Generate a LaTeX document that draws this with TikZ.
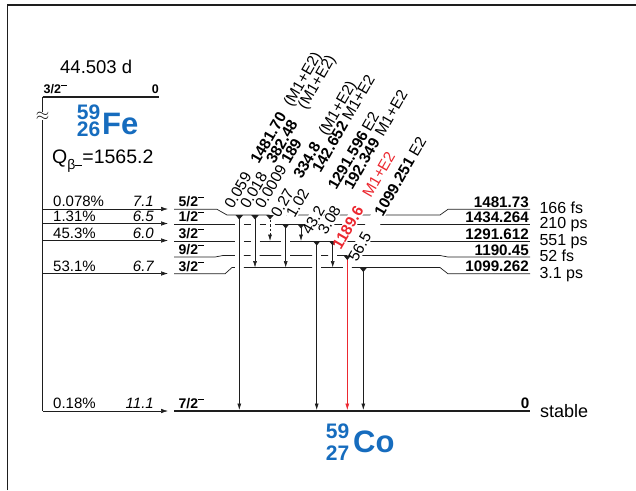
\documentclass[tikz,border=0pt]{standalone}
\usepackage{fontspec}
\setmainfont{Liberation Sans}
\usetikzlibrary{arrows.meta}
\definecolor{ink}{RGB}{30,30,30}
\definecolor{nucblue}{RGB}{22,108,190}
\definecolor{gred}{RGB}{236,40,48}
\newcommand{\fs}[1]{\fontsize{#1}{#1}\selectfont}
\newcommand{\mns}{\rule[0.62em]{0.45em}{0.075em}}
\newcommand{\tI}[2][52pt]{\makebox[#1][l]{#2}}
\newcommand{\tE}[2]{\makebox[#1][l]{\bfseries #2}}
\newcommand{\translabels}[1]{%
 \node[tlab,#1] (t1) at (232.3,211) {\tI{0.059}\tE{66pt}{1481.70}(M1+E2)};
 \node[tlab,#1] (t2) at (248,211) {\tI{0.018}\tE{63pt}{382.48}(M1+E2)};
 \node[tlab,#1] (t3) at (263,211) {\tI{0.0009}\textbf{189}};
 \node[tlab,#1] (t4) at (278.7,220) {\tI[45pt]{0.27}\tE{50pt}{334.8}(M1+E2)};
 \node[tlab,#1] (t5) at (294,220) {\tI{1.02}\tE{60pt}{142.652}M1+E2};
 \node[tlab,#1] (t6) at (309.7,237) {\tI{43.2}\tE{68pt}{1291.596}E2};
 \node[tlab,#1] (t7) at (325.7,237) {\tI{3.08}\tE{62pt}{192.349}M1+E2};
 \node[tlab,text=gred,#1] (t8) at (340.3,251.5) {\tE{60pt}{1189.6}M1+E2};
 \node[tlab,#1] (t9) at (356.3,263.5) {\tI{56.5}\tE{69pt}{1099.251}E2};
}
\begin{document}
\begin{tikzpicture}[x=1pt,y=-1pt,
  lvl/.style={draw=ink,line width=0.7pt},
  gnd/.style={draw=ink,line width=2.3pt},
  gam/.style={draw=ink,line width=0.6pt,-{Latex[length=6.5pt,width=4pt]}},
  feed/.style={draw=ink,line width=0.6pt,-{Latex[length=7pt,width=4.5pt]}},
  tlab/.style={rotate=60,anchor=base west,inner sep=1pt,font=\fs{15.5}},
  bgpass/.style={fill=white,text=white},
  spin/.style={anchor=base west,inner sep=0pt,font=\fs{14}\bfseries},
  pct/.style={anchor=base west,inner sep=0pt,font=\fs{15}},
  lft/.style={anchor=base east,inner sep=0pt,font=\fs{15}\itshape},
  elab/.style={anchor=base east,inner sep=0pt,font=\fs{15.2}\bfseries},
  hl/.style={anchor=base west,inner sep=0pt,font=\fs{16}},
  nuc/.style={inner sep=0pt,text=nucblue,font=\bfseries}]
\useasboundingbox (0,0) rectangle (636,490);
% frame
\draw[ink,line width=1.6pt] (7.3,490) -- (7.3,5) -- (636,5);
% parent level
\draw[gnd] (42.7,96.7) -- (159.3,96.7);
\node[anchor=base west,inner sep=0pt,font=\fs{12.5}\bfseries] (pspin) at (43.5,93.3) {3/2\mns};
\node[anchor=base east,inner sep=0pt,font=\fs{12.5}\bfseries] (pzero) at (159,93.3) {0};
\node[anchor=base west,inner sep=0pt,font=\fs{18.5}] (thalf) at (60,73.3) {44.503 d};
\node[nuc,anchor=base west,font=\fs{31}\bfseries] (fe) at (102,134.3) {Fe};
\node[nuc,anchor=base east,font=\fs{21}\bfseries] (fea) at (100.5,119.3) {59};
\node[nuc,anchor=base east,font=\fs{21}\bfseries] (fez) at (100.5,136.7) {26};
\node[anchor=base west,inner sep=0pt,font=\fs{19.5}] (qb) at (52,163.5) {Q\raisebox{-0.33em}{\fs{14}β\rule[0.25em]{0.5em}{0.07em}}=1565.2};
% feeding line
\draw[ink,line width=0.7pt] (42.7,96.7) -- (42.7,411);
\node[inner sep=0pt,fill=white,text=ink,font=\fs{19}] (brk) at (42.5,116) {$\approx$};
\foreach \yy in {209,223.5,240.5,273.5,411} \draw[feed] (42.7,\yy) -- (168,\yy);
% levels
\draw[lvl] (174,209.3) -- (217,209.3) -- (227,215) -- (440,215) -- (448,209.3) -- (530,209.3);
\draw[lvl] (174,224) -- (234.8,224) (243.8,224) -- (250.5,224) (259.5,224) -- (265.5,224) (274.5,224) -- (530,224);
\draw[lvl] (174,241) -- (234.8,241) (243.8,241) -- (250.5,241) (259.5,241) -- (281.2,241) (290.2,241) -- (530,241);
\draw[lvl] (174,257) -- (215,257) -- (223,255.5) -- (234.8,255.5) (243.8,255.5) -- (250.5,255.5) (259.5,255.5) -- (281.2,255.5) (290.2,255.5) -- (312.2,255.5) (321.2,255.5) -- (328.2,255.5) (337.2,255.5) -- (440,255.5) -- (448,257) -- (530,257);
\draw[lvl] (174,273.8) -- (225,273.8) -- (232,267.5) -- (234.8,267.5) (243.8,267.5) -- (312.2,267.5) (321.2,267.5) -- (342.8,267.5) (351.8,267.5) -- (440,267.5) -- (448,273.8) -- (530,273.8);
\draw[gnd] (174,411) -- (530,411);
% label backgrounds
\translabels{bgpass}
% gamma transitions
\foreach \xx/\ya/\yb in {239.3/215/410, 255/215/267.5, 285.7/224/267.5, 301/224/241, 316.7/241/410, 332.7/241/267.5, 363.3/267.5/410}
  \draw[gam] (\xx,\ya) -- (\xx,\yb);
\draw[gam,dash pattern=on 2.5pt off 2pt] (270,215) -- (270,241);
\draw[gam,draw=gred,fill=gred,line width=0.5pt] (347.3,255.5) -- (347.3,410);
\foreach \xx/\ya in {239.3/215, 255/215, 270/215, 285.7/224, 301/224, 316.7/241, 332.7/241, 347.3/255.5, 363.3/267.5}
  \fill[ink] (\xx-3.8,\ya) -- (\xx+3.8,\ya) -- (\xx,\ya+4.5) -- cycle;
% transition labels
\translabels{}
% left labels
\node[pct] (p1) at (53,206) {0.078\%};
\node[pct] (p2) at (53,221) {1.31\%};
\node[pct] (p3) at (53,238) {45.3\%};
\node[pct] (p4) at (53,271) {53.1\%};
\node[pct] (p5) at (53,408) {0.18\%};
\node[lft] (f1) at (154,206) {7.1};
\node[lft] (f2) at (154,221) {6.5};
\node[lft] (f3) at (154,238) {6.0};
\node[lft] (f4) at (154,271) {6.7};
\node[lft] (f5) at (154,408) {11.1};
\node[spin] (s1) at (178.5,206.8) {5/2\mns};
\node[spin] (s2) at (178.5,221.5) {1/2\mns};
\node[spin] (s3) at (178.5,238.5) {3/2\mns};
\node[spin] (s4) at (178.5,254.5) {9/2\mns};
\node[spin] (s5) at (178.5,271.3) {3/2\mns};
\node[spin] (s0) at (178.5,408.5) {7/2\mns};
% right labels
\node[elab] (e1) at (529,207.3) {1481.73};
\node[elab] (e2) at (529,222) {1434.264};
\node[elab] (e3) at (529,239) {1291.612};
\node[elab] (e4) at (529,255) {1190.45};
\node[elab] (e5) at (529,271.5) {1099.262};
\node[elab] (e0) at (529.4,408.5) {0};
\node[hl] (h1) at (539.3,213.3) {166 fs};
\node[hl] (h2) at (539.3,228) {210 ps};
\node[hl] (h3) at (539.3,245) {551 ps};
\node[hl] (h4) at (539.3,261) {52 fs};
\node[hl] (h5) at (539.3,278) {3.1 ps};
\node[anchor=base west,inner sep=0pt,font=\fs{18}] (st) at (540,417) {stable};
% daughter
\node[nuc,anchor=base west,font=\fs{31}\bfseries] (co) at (353,452) {Co};
\node[nuc,anchor=base east,font=\fs{21}\bfseries] (coa) at (349.5,438) {59};
\node[nuc,anchor=base east,font=\fs{21}\bfseries] (coz) at (349.5,460) {27};
\end{tikzpicture}
\end{document}
